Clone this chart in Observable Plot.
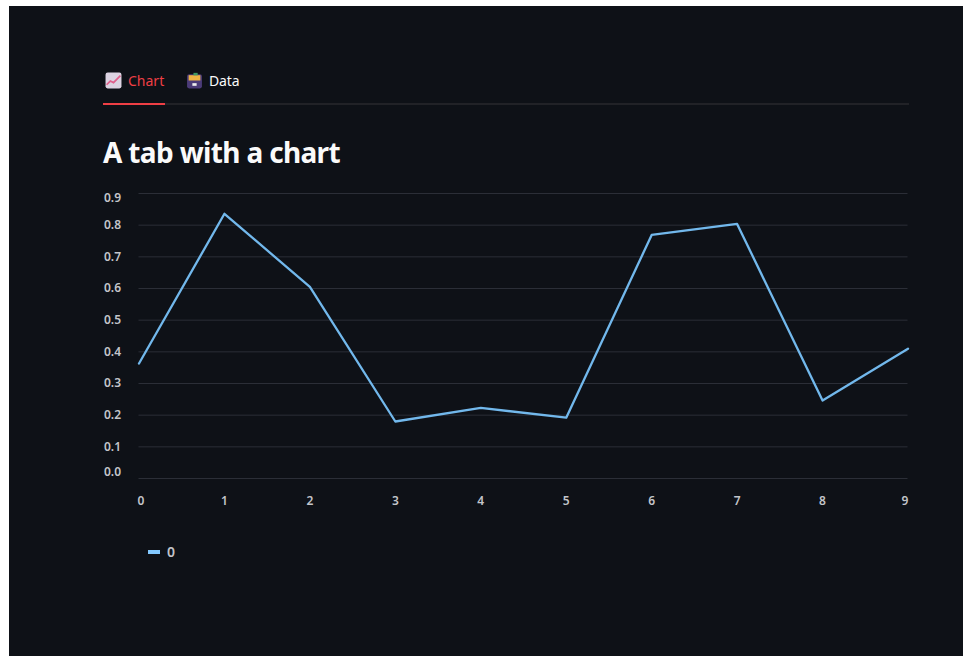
<!DOCTYPE html>
<html><head><meta charset="utf-8">
<script src="https://cdn.jsdelivr.net/npm/d3@7"></script>
<script src="https://cdn.jsdelivr.net/npm/@observablehq/plot@0.6"></script>
<style>
html,body{margin:0;padding:0;background:#fff;overflow:hidden}
#panel{position:absolute;left:9px;top:6px;width:954px;height:650px;background:#0e1117;font-family:"Noto Sans",sans-serif;color:#fafafa}
.tab{position:absolute;top:66px;font-size:14px;line-height:18px;white-space:nowrap}
.ic{position:absolute;top:66px;width:17px;height:17px}
#rule{position:absolute;left:94px;top:97px;width:806px;height:2px;background:#212227}
#active{position:absolute;left:94px;top:97px;width:62px;height:2px;background:#ef3f45}
h2{position:absolute;left:94px;top:127px;margin:0;font-size:28px;line-height:38px;font-weight:700;white-space:nowrap;letter-spacing:-.65px}
#plot{position:absolute;left:0;top:170px}
#legend{position:absolute;left:139px;top:537px;font-size:14px;font-weight:600;color:#c3c5ca;line-height:18px}
#legend i{display:inline-block;width:12px;height:4px;background:#83c9ff;vertical-align:middle;margin-right:7px;position:relative;top:-1px}
</style></head><body>
<div id="panel">
<svg class="ic" style="left:96px" viewBox="0 0 16 16"><rect x=".5" y=".5" width="15" height="15" rx="2" fill="#dcd3e2"/><path d="M1.5 12 5 8.5l3 1.5 6.5-6.5" fill="none" stroke="#e0608c" stroke-width="1.6"/></svg>
<div class="tab" style="left:119px;color:#ef3f45">Chart</div>
<svg class="ic" style="left:177px" viewBox="0 0 16 16"><rect x="1" y="2" width="14" height="13.5" rx="2" fill="#4b3b78"/><rect x="2.5" y="3" width="11" height="5" fill="#efb544"/><rect x="7" y=".8" width="4" height="2.4" fill="#3f9a63"/><rect x="6" y="10.5" width="4" height="2.5" fill="#eee"/></svg>
<div class="tab" style="left:200px;letter-spacing:-.1px">Data</div>
<div id="rule"></div><div id="active"></div>
<h2>A tab with a chart</h2>
<div id="plot"></div>
<div id="legend"><i></i>0</div>
</div>
<script>
const xs=[0,1,2,3,4,5,6,7,8,9];
const values=[0.363,0.836,0.605,0.18,0.223,0.192,0.769,0.804,0.246,0.41];
const yMid=[0.1,0.2,0.3,0.4,0.5,0.6,0.7,0.8];
const yAll=[0,0.1,0.2,0.3,0.4,0.5,0.6,0.7,0.8,0.9];
const xMid=[1,2,3,4,5,6,7,8];
const axisStyle={tickSize:0,fill:"#c3c5ca",fontWeight:600,fontSize:12,label:null};
const yFmt=d=>d.toFixed(1);
const xFmt=d=>String(d);
const chart=Plot.plot({
  width:954,height:360,
  marginLeft:129.5,marginRight:55.5,marginTop:17,marginBottom:58,
  style:{background:"transparent",fontFamily:'"Noto Sans",sans-serif'},
  x:{domain:[0,9]},
  y:{domain:[0,0.9]},
  marks:[
    Plot.ruleY(yAll,{stroke:"#2b2e37",strokeWidth:1}),
    Plot.axisY(yMid,{...axisStyle,tickFormat:yFmt,tickPadding:18}),
    Plot.axisY([0.9],{...axisStyle,tickFormat:yFmt,tickPadding:18,dy:5}),
    Plot.axisY([0],{...axisStyle,tickFormat:yFmt,tickPadding:18,dy:-6}),
    Plot.axisX(xMid,{...axisStyle,tickFormat:xFmt,tickPadding:18}),
    Plot.axisX([0],{...axisStyle,tickFormat:xFmt,tickPadding:18,dx:2}),
    Plot.axisX([9],{...axisStyle,tickFormat:xFmt,tickPadding:18,dx:-3}),
    Plot.line(xs.map((x,i)=>({x,y:values[i]})),{x:"x",y:"y",stroke:"#72b8ec",strokeWidth:2.3})
  ]
});
document.getElementById("plot").appendChild(chart);
</script>
</body></html>
